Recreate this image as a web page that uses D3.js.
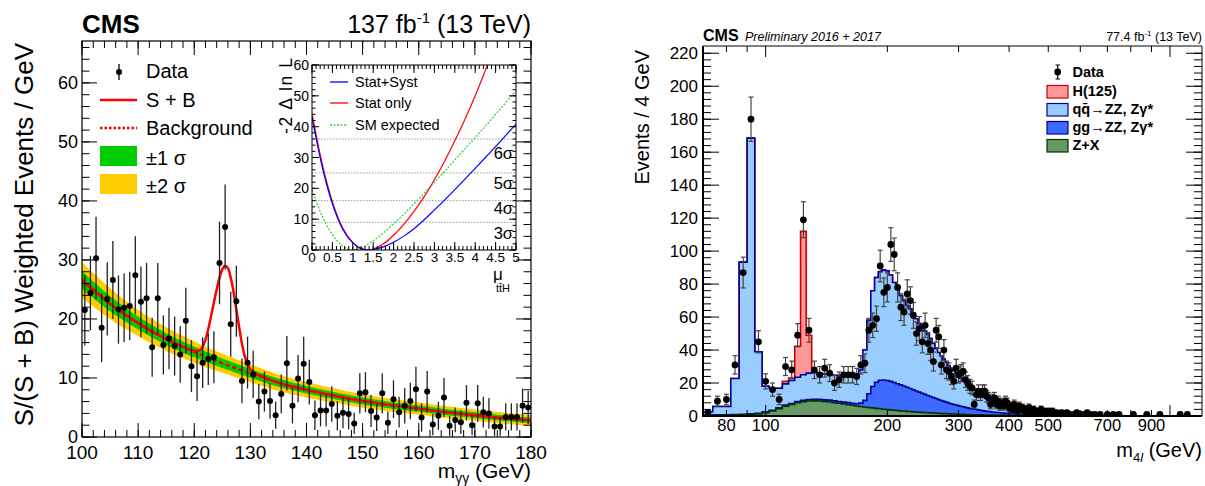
<!DOCTYPE html>
<html><head><meta charset="utf-8">
<script src="https://cdn.jsdelivr.net/npm/d3@7"></script>
<style>
html,body{margin:0;padding:0;background:#fff;}
svg{display:block;font-family:"Liberation Sans",Arial,Helvetica,sans-serif;}
</style></head><body>
<svg id="chart" width="1205" height="486"></svg>
<script>
// ================= LEFT PANEL DATA (H->gammagamma, ttH) =================
const lBinCenters = d3.range(100.5, 180, 1);
const lData = [
 21.5, 24.4, 30.3, 18.5, 23.4, 26.6, 21.6, 21.9, 22.2, 27.4,
 22.9, 23.5, 15.2, 23.5, 15.6, 16.7, 15.4, 14.0, 19.7, 12.0,
 10.3, 12.6, 13.2, 13.5, 29.5, 35.6, 19.1, 23.0, 9.5, 12.6,
 10.6, 6.0, 7.7, 6.1, 3.7, 7.3, 12.5, 5.3, 9.9, 12.4,
 9.3, 3.7, 4.5, 4.5, 5.6, 3.6, 4.1, 3.9, 2.3, 7.4,
 7.6, 4.4, 3.3, 7.4, 2.4, 6.4, 4.2, 5.3, 6.1, 8.1,
 3.3, 7.7, 2.1, 3.6, 6.7, 1.9, 2.9, 2.5, 5.8, 2.0,
 5.7, 4.2, 4.0, 1.8, 1.8, 3.4, 3.4, 3.4, 5.3, 5.0];
const lErr = [
 6.0, 6.3, 7.0, 5.8, 6.2, 6.6, 5.8, 5.8, 5.8, 6.6,
 6.0, 6.0, 5.0, 6.0, 5.0, 5.2, 5.0, 4.8, 5.6, 4.4,
 4.2, 4.3, 4.4, 4.4, 7.0, 7.2, 5.5, 6.0, 3.8, 4.4,
 4.0, 3.0, 3.4, 3.0, 2.3, 3.3, 4.6, 3.0, 4.0, 4.6,
 3.8, 2.5, 2.7, 2.7, 3.0, 2.5, 2.6, 2.6, 1.8, 3.4,
 3.4, 2.7, 2.3, 3.4, 1.9, 3.2, 2.6, 3.0, 3.1, 3.8,
 2.4, 3.5, 1.8, 2.4, 3.3, 1.7, 2.1, 2.0, 3.0, 1.7,
 3.1, 2.6, 2.6, 1.6, 1.6, 2.3, 2.3, 2.3, 2.9, 2.8];
const bkgMass = [100,105,110,115,120,125,130,135,140,145,150,155,160,165,170,175,180];
const bkgVal  = [26.6,22.6,19.3,16.6,14.4,12.5,10.8,9.2,8.0,7.0,6.1,5.4,4.8,4.2,3.7,3.2,2.8];
const band1   = [1.5,1.3,1.1,1.0,0.9,0.8,0.75,0.7,0.65,0.6,0.58,0.55,0.52,0.5,0.48,0.47,0.46];
const band2   = [3.0,2.6,2.2,2.0,1.8,1.6,1.5,1.4,1.3,1.2,1.15,1.1,1.05,1.0,0.96,0.94,0.92];
const sbMass = [100,105,110,115,118,120,121,121.5,122,122.5,123,123.5,124,124.5,125,125.5,126,126.5,127,127.5,128,128.5,129,129.5,130,131,132,135,140,145,150,155,160,165,170,175,180];
const sbVal  = [26.6,22.6,19.3,16.6,15.3,14.6,14.7,15.3,16.5,18.3,20.5,22.8,25.0,27.0,28.4,29.0,28.6,27.0,24.6,21.6,18.6,15.8,13.7,12.3,11.5,10.7,10.3,9.2,8.0,7.0,6.1,5.4,4.8,4.2,3.7,3.2,2.8];
const lXTicks = [100,110,120,130,140,150,160,170,180];
const lYTicks = [0,10,20,30,40,50,60];

// inset likelihood scan
const muGrid   = [0,0.25,0.5,0.75,1,1.25,1.375,1.5,1.75,2,2.25,2.5,2.75,3,3.25,3.5,3.75,4,4.25,4.5,4.75,5];
const statSyst = [43,27,15,6.8,2.3,0.3,0,0.2,1.0,2.5,4.5,6.9,9.8,13.0,16.2,19.6,23.0,26.5,30.0,33.5,37.2,40.8];
const statOnly = [44.3,28,15.7,7.2,2.4,0.2,0,0.3,2.0,4.8,8.3,12.5,17.3,22.8,28.8,35.4,42.4,50.0,58.3,67];
const smExp    = [19.5,11,5,1.3,0,0.9,1.9,3.0,5.5,8.5,11.6,15.0,18.4,22.0,25.5,29.2,32.8,36.5,40.2,44.0,47.8,51.6];
const sigmaLevels = [9,16,25,36];
const sigmaLabels = ['3σ','4σ','5σ','6σ'];
const sigmaLabelPos = [5.5,13.6,21.7,31.5];
const insetXTicks = [0,0.5,1,1.5,2,2.5,3,3.5,4,4.5,5];
const insetYTicks = [0,10,20,30,40,50,60];

// ================= RIGHT PANEL DATA (H->ZZ->4l) =================
const rEdges = d3.range(70, 503, 4);      // 4 GeV bins 70..502
const rCenters = d3.range(72, 501, 4);
const zxVals = [
 0.3,0.4,0.5,0.6,0.8,1.0,1.3,2.0,3.0,4.5,
 6.0,7.0,8.0,8.7,9.1,9.2,9.1,8.8,8.5,8.1,
 7.7,7.3,6.9,6.5,6.1,5.8,5.5,5.2,4.9,4.6,
 4.4,4.1,3.9,3.7,3.5,3.3,3.1,3.0,2.8,2.7,
 2.5,2.4,2.3,2.2,2.1,2.0,1.9,1.8,1.7,1.6,
 1.5,1.45,1.4,1.3,1.25,1.2,1.15,1.1,1.05,1.0,
 0.95,0.9,0.85,0.8,0.78,0.75,0.72,0.7,0.67,0.64,
 0.61,0.58,0.56,0.54,0.52,0.5,0.48,0.46,0.44,0.42,
 0.4,0.38,0.36,0.35,0.34,0.33,0.32,0.31,0.3,0.29,
 0.28,0.27,0.26,0.25,0.24,0.23,0.22,0.21,0.2,0.2,
 0.19,0.19,0.18,0.18,0.17,0.17,0.16,0.16];
const ggVals = [
 0.3,0.3,0.3,0.3,0.3,0.3,0.4,0.5,0.5,0.5,
 0.6,0.6,0.7,0.8,0.9,1.0,1.0,1.0,1.1,1.1,
 1.1,1.1,1.2,1.2,1.3,2.0,4.0,8.3,13.0,15.9,
 17.3,17.7,17.6,17.3,16.8,16.3,15.8,15.2,14.6,14.0,
 13.4,12.8,12.2,11.6,11.0,10.4,9.9,9.4,8.9,8.4,
 7.9,7.4,7.0,6.6,6.2,5.8,5.5,5.2,4.9,4.6,
 4.3,4.0,3.8,3.6,3.4,3.2,3.0,2.8,2.6,2.45,
 2.3,2.15,2.0,1.9,1.8,1.7,1.6,1.5,1.4,1.3,
 1.25,1.2,1.1,1.05,1.0,0.95,0.9,0.85,0.8,0.75,
 0.72,0.68,0.65,0.62,0.59,0.56,0.53,0.5,0.48,0.46,
 0.44,0.42,0.4,0.38,0.36,0.35,0.34,0.33];
const qqVals = [
 2.0,5.1,5.0,21.8,92.2,167.2,37.3,15.5,13.3,11.8,
 12.9,13.9,14.8,15.5,16.0,16.1,15.9,15.7,15.4,15.5,
 15.7,16.1,16.6,17.3,18.1,20.2,30.5,44.5,58.1,63.5,
 65.8,66.7,66.5,64.5,60.7,57.4,54.1,51.8,49.6,48.3,
 46.6,43.8,41.5,39.7,38.4,37.1,35.2,32.8,30.4,28.5,
 27.1,25.65,24.1,22.6,21.55,20.5,19.35,18.2,17.05,16.2,
 15.25,14.3,13.35,12.6,11.82,11.15,10.58,10.1,9.63,9.11,
 8.59,8.17,7.74,7.36,6.98,6.6,6.22,5.84,5.56,5.28,
 4.95,4.62,4.44,4.2,3.96,3.72,3.48,3.34,3.1,2.96,
 2.8,2.65,2.49,2.33,2.17,2.06,1.95,1.84,1.72,1.64,
 1.57,1.49,1.42,1.34,1.27,1.18,1.1,1.01];
const hVals = [
 0,0,0,0,0,0,0,0,0,0,
 1.5,1.5,18.8,87,23,0.5,0,0,0,0,
 0,0,0,0,0,0,0,0,0,0,
 0,0,0,0,0,0,0,0,0,0,
 0,0,0,0,0,0,0,0,0,0,
 0,0,0,0,0,0,0,0,0,0,
 0,0,0,0,0,0,0,0,0,0,
 0,0,0,0,0,0,0,0,0,0,
 0,0,0,0,0,0,0,0,0,0,
 0,0,0,0,0,0,0,0,0,0,
 0,0,0,0,0,0,0,0];
const rDataN = [
 2,9,10,31,87,180,45,21,16,10,
 30,28,49,119,52,28,25,29,26,20,
 22,25,25,25,24,31,32,52,55,59,
 91,75,78,104,98,78,66,63,74,70,
 61,50,53,45,55,44,40,33,52,48,
 31,40,28,27,24,21,29,25,26,27,
 22,20,18,17,7,13,15,13,15,15,
 12,11,7,10,11,7,9,6,8,6,
 9,8,5,6,4,7,5,3,6,4,
 5,3,4,2,5,3,2,4,3,1,
 3,2,4,2,3,1,2,3];
const rTailM = [504,508,512,520,524,532,540,548,556,564,576,588,600,612,624,636,652,672,700,724,748,812,876,944,1060,1104];
const rTailN = [2,1,3,1,2,1,2,1,2,1,1,2,1,1,2,1,1,1,1,1,1,1,1,1,1,1];
const rXLabels = [80,100,200,300,400,500,700,900];
const rXMinor = [80,90,200,300,400,500,600,700,800,900];
const rXMajor = [100,1000];
const rYTicks = [0,20,40,60,80,100,120,140,160,180,200,220];

// ================= DRAWING =================
const svg = d3.select('#chart');
const defs = svg.append('defs');
function clip(id,x,y,w,h){defs.append('clipPath').attr('id',id).append('rect').attr('x',x).attr('y',y).attr('width',w).attr('height',h);}

function ticksX(g, sx, vals, y, len, dir){
  g.append('g').selectAll('line').data(vals).join('line')
   .attr('x1',d=>sx(d)).attr('x2',d=>sx(d)).attr('y1',y).attr('y2',y+dir*len)
   .attr('stroke','#000').attr('stroke-width',1);
}
function ticksY(g, sy, vals, x, len, dir){
  g.append('g').selectAll('line').data(vals).join('line')
   .attr('y1',d=>sy(d)).attr('y2',d=>sy(d)).attr('x1',x).attr('x2',x+dir*len)
   .attr('stroke','#000').attr('stroke-width',1);
}

// ---------- LEFT ----------
const L = {x0:82, x1:531, y0:41, y1:437};
const xL = d3.scaleLinear().domain([100,180]).range([L.x0,L.x1]);
const yL = d3.scaleLinear().domain([0,67.1]).range([L.y1,L.y0]);
clip('clipL', L.x0, L.y0, L.x1-L.x0, L.y1-L.y0);
const gL = svg.append('g');
const cL = gL.append('g').attr('clip-path','url(#clipL)');
const band = bkgMass.map((m,i)=>({m, b:bkgVal[i], s1:band1[i], s2:band2[i]}));
cL.append('path').datum(band)
  .attr('d', d3.area().x(d=>xL(d.m)).y0(d=>yL(d.b-d.s2)).y1(d=>yL(d.b+d.s2)).curve(d3.curveMonotoneX))
  .attr('fill','#ffcc00');
cL.append('path').datum(band)
  .attr('d', d3.area().x(d=>xL(d.m)).y0(d=>yL(d.b-d.s1)).y1(d=>yL(d.b+d.s1)).curve(d3.curveMonotoneX))
  .attr('fill','#00cc00');
cL.append('path').datum(band)
  .attr('d', d3.line().x(d=>xL(d.m)).y(d=>yL(d.b)).curve(d3.curveMonotoneX))
  .attr('fill','none').attr('stroke','#ff0000').attr('stroke-width',2.5).attr('stroke-dasharray','4,3');
cL.append('path').datum(sbMass.map((m,i)=>({m, v:sbVal[i]})))
  .attr('d', d3.line().x(d=>xL(d.m)).y(d=>yL(d.v)).curve(d3.curveMonotoneX))
  .attr('fill','none').attr('stroke','#ff0000').attr('stroke-width',2.5);
const lPts = lBinCenters.map((m,i)=>({m, v:lData[i], e:lErr[i]}));
cL.append('g').selectAll('line').data(lPts).join('line')
  .attr('x1',d=>xL(d.m)).attr('x2',d=>xL(d.m)).attr('y1',d=>yL(d.v-d.e)).attr('y2',d=>yL(d.v+d.e))
  .attr('stroke','#222').attr('stroke-width',1.3);
cL.append('g').selectAll('circle').data(lPts).join('circle')
  .attr('cx',d=>xL(d.m)).attr('cy',d=>yL(d.v)).attr('r',3).attr('fill','#000');
// frame & ticks
gL.append('rect').attr('x',L.x0).attr('y',L.y0).attr('width',L.x1-L.x0).attr('height',L.y1-L.y0)
  .attr('fill','none').attr('stroke','#000').attr('stroke-width',1.2);
ticksX(gL, xL, lXTicks, L.y1, 14, -1); ticksX(gL, xL, lXTicks, L.y0, 14, 1);
const lXMin = d3.range(100,180.01,2);
ticksX(gL, xL, lXMin, L.y1, 7, -1); ticksX(gL, xL, lXMin, L.y0, 7, 1);
ticksY(gL, yL, lYTicks, L.x0, 15, 1); ticksY(gL, yL, lYTicks, L.x1, 15, -1);
const lYMin = d3.range(0,67,2);
ticksY(gL, yL, lYMin, L.x0, 7.5, 1); ticksY(gL, yL, lYMin, L.x1, 7.5, -1);
gL.append('g').selectAll('text').data(lXTicks).join('text')
  .attr('x',d=>xL(d)).attr('y',459).attr('text-anchor','middle').attr('font-size',19).text(d=>d);
gL.append('g').selectAll('text').data(lYTicks).join('text')
  .attr('x',78).attr('y',d=>yL(d)).attr('dy','0.36em').attr('text-anchor','end').attr('font-size',18).text(d=>d);
// titles
gL.append('text').attr('transform','translate(33,43) rotate(-90)').attr('text-anchor','end').attr('font-size',26)
  .text('S/(S + B) Weighted Events / GeV');
const xt = gL.append('text').attr('x',531).attr('y',478).attr('text-anchor','end').attr('font-size',21);
xt.append('tspan').text('m');
xt.append('tspan').attr('font-size',14).attr('dy',5).text('γγ');
xt.append('tspan').attr('dy',-5).text(' (GeV)');
gL.append('text').attr('x',82).attr('y',33).attr('font-size',26).attr('font-weight','bold').text('CMS');
const lum = gL.append('text').attr('x',531).attr('y',33).attr('text-anchor','end').attr('font-size',25);
lum.append('tspan').text('137 fb');
lum.append('tspan').attr('font-size',15).attr('dy',-10).text('-1');
lum.append('tspan').attr('dy',10).text(' (13 TeV)');
// legend
const lg = gL.append('g').attr('font-size',20);
lg.append('line').attr('x1',119).attr('x2',119).attr('y1',64).attr('y2',80).attr('stroke','#000').attr('stroke-width',1.3);
lg.append('circle').attr('cx',119).attr('cy',72).attr('r',3).attr('fill','#000');
lg.append('text').attr('x',146).attr('y',78).text('Data');
lg.append('line').attr('x1',100).attr('x2',137).attr('y1',100).attr('y2',100).attr('stroke','#ff0000').attr('stroke-width',2.5);
lg.append('text').attr('x',146).attr('y',107).text('S + B');
lg.append('line').attr('x1',100).attr('x2',137).attr('y1',128).attr('y2',128).attr('stroke','#ff0000').attr('stroke-width',2.5).attr('stroke-dasharray','2.5,2');
lg.append('text').attr('x',146).attr('y',135).text('Background');
lg.append('rect').attr('x',100).attr('y',146).attr('width',37).attr('height',20).attr('fill','#00cc00');
lg.append('text').attr('x',146).attr('y',165).text('±1 σ');
lg.append('rect').attr('x',100).attr('y',174).attr('width',37).attr('height',20).attr('fill','#ffcc00');
lg.append('text').attr('x',146).attr('y',193).text('±2 σ');

// ---------- INSET ----------
const I = {x0:312, x1:516, y0:65, y1:250};
const xI = d3.scaleLinear().domain([0,5]).range([I.x0,I.x1]);
const yI = d3.scaleLinear().domain([0,60]).range([I.y1,I.y0]);
clip('clipI', I.x0, I.y0, I.x1-I.x0, I.y1-I.y0);
const gI = svg.append('g');
gI.append('rect').attr('x',I.x0).attr('y',I.y0).attr('width',I.x1-I.x0).attr('height',I.y1-I.y0).attr('fill','#fff');
const cI = gI.append('g').attr('clip-path','url(#clipI)');
cI.append('g').selectAll('line').data(sigmaLevels).join('line')
  .attr('x1',I.x0).attr('x2',I.x1).attr('y1',d=>yI(d)).attr('y2',d=>yI(d))
  .attr('stroke','#999').attr('stroke-width',1).attr('stroke-dasharray','1.5,1.5');
const scanLine = d3.line().x(d=>xI(d[0])).y(d=>yI(d[1])).curve(d3.curveMonotoneX);
cI.append('path').datum(muGrid.map((m,i)=>[m,smExp[i]])).attr('d',scanLine)
  .attr('fill','none').attr('stroke','#33cc33').attr('stroke-width',1.2).attr('stroke-dasharray','2,1.5');
cI.append('path').datum(statOnly.map((v,i)=>[muGrid[i],v])).attr('d',scanLine)
  .attr('fill','none').attr('stroke','#ff0000').attr('stroke-width',1.2);
cI.append('path').datum(muGrid.map((m,i)=>[m,statSyst[i]])).attr('d',scanLine)
  .attr('fill','none').attr('stroke','#0000ff').attr('stroke-width',1.2);
gI.append('g').selectAll('text').data(sigmaLabels).join('text')
  .attr('x',513).attr('y',(d,i)=>yI(sigmaLabelPos[i])).attr('dy','0.36em').attr('text-anchor','end')
  .attr('font-size',16.5).text(d=>d);
gI.append('rect').attr('x',I.x0).attr('y',I.y0).attr('width',I.x1-I.x0).attr('height',I.y1-I.y0)
  .attr('fill','none').attr('stroke','#000').attr('stroke-width',1);
ticksX(gI, xI, insetXTicks, I.y1, 8, -1); ticksX(gI, xI, insetXTicks, I.y0, 8, 1);
const iXMin = d3.range(0,5.001,0.1);
ticksX(gI, xI, iXMin, I.y1, 4, -1); ticksX(gI, xI, iXMin, I.y0, 4, 1);
ticksY(gI, yI, insetYTicks, I.x0, 7, 1); ticksY(gI, yI, insetYTicks, I.x1, 7, -1);
const iYMin = d3.range(0,60.01,2);
ticksY(gI, yI, iYMin, I.x0, 3.5, 1); ticksY(gI, yI, iYMin, I.x1, 3.5, -1);
gI.append('g').selectAll('text').data(insetXTicks).join('text')
  .attr('x',d=>xI(d)).attr('y',261.5).attr('text-anchor','middle').attr('font-size',13.5).text(d=>d3.format('~g')(d));
gI.append('g').selectAll('text').data(insetYTicks).join('text')
  .attr('x',309).attr('y',d=>yI(d)).attr('dy','0.36em').attr('text-anchor','end').attr('font-size',14).text(d=>d);
gI.append('text').attr('transform','translate(292,58) rotate(-90)').attr('text-anchor','end').attr('font-size',17.5)
  .attr('textLength',76).attr('lengthAdjust','spacing').text('-2 Δ ln L');
gI.append('text').attr('x',493).attr('y',280).attr('font-size',17).text('μ');
gI.append('text').attr('x',496).attr('y',292).attr('font-size',11).text('tt\u0304H');
const il = gI.append('g').attr('font-size',14.5);
[['Stat+Syst','#0000ff',null,87],['Stat only','#ff0000',null,108],['SM expected','#33cc33','2,1.5',130]].forEach(r=>{
  il.append('line').attr('x1',330).attr('x2',348).attr('y1',r[3]-5).attr('y2',r[3]-5)
    .attr('stroke',r[1]).attr('stroke-width',1.3).attr('stroke-dasharray',r[2]);
  il.append('text').attr('x',355).attr('y',r[3]).text(r[0]);
});

// ---------- RIGHT ----------
const R = {x0:703, x1:1202, y0:46, y1:416};
const xR = d3.scaleLog().domain([70,1200]).range([R.x0,R.x1]);
const yR = d3.scaleLinear().domain([0,224.4]).range([R.y1,R.y0]);
clip('clipR', R.x0, R.y0, R.x1-R.x0, R.y1-R.y0);
const gR = svg.append('g');
const cR = gR.append('g').attr('clip-path','url(#clipR)');
const stack = d3.stack().keys(['zx','gg','qq','h'])(rCenters.map((c,i)=>({zx:zxVals[i], gg:ggVals[i], qq:qqVals[i], h:hVals[i]})));
const layers = [
  {k:3, fill:'#ff9999', stroke:'#cc0000'},
  {k:2, fill:'#99ccff', stroke:'#000099'},
  {k:1, fill:'#3d6bff', stroke:'#000099'},
  {k:0, fill:'#669966', stroke:'#003300'}];
const stepArea = d3.area().x(d=>xR(d.m)).y0(yR(0)).y1(d=>yR(d.v)).curve(d3.curveStepAfter);
layers.forEach(L2=>{
  const tops = stack[L2.k].map(d=>d[1]);
  const pts = rEdges.map((e,i)=>({m:e, v:tops[Math.min(i,tops.length-1)]}));
  cR.append('path').datum(pts).attr('d',stepArea).attr('fill',L2.fill)
    .attr('stroke',L2.stroke).attr('stroke-width',1.6);
});
const rPts = rCenters.map((c,i)=>({m:c, n:rDataN[i]})).concat(rTailM.map((m,i)=>({m, n:rTailN[i]})));
const eb = cR.append('g').attr('stroke','#444').attr('stroke-width',1.2);
rPts.forEach(d=>{
  const e = Math.sqrt(d.n), x = xR(d.m);
  eb.append('line').attr('x1',x).attr('x2',x).attr('y1',yR(d.n-e)).attr('y2',yR(d.n+e));
  eb.append('line').attr('x1',x-2.5).attr('x2',x+2.5).attr('y1',yR(d.n-e)).attr('y2',yR(d.n-e));
  eb.append('line').attr('x1',x-2.5).attr('x2',x+2.5).attr('y1',yR(d.n+e)).attr('y2',yR(d.n+e));
});
cR.append('g').selectAll('circle').data(rPts).join('circle')
  .attr('cx',d=>xR(d.m)).attr('cy',d=>yR(d.n)).attr('r',3.4).attr('fill','#000');
// frame
gR.append('line').attr('x1',R.x0).attr('x2',R.x1).attr('y1',R.y0).attr('y2',R.y0).attr('stroke','#000').attr('stroke-width',1);
gR.append('line').attr('x1',R.x1).attr('x2',R.x1).attr('y1',R.y0).attr('y2',R.y1).attr('stroke','#000').attr('stroke-width',1);
gR.append('line').attr('x1',R.x0).attr('x2',R.x1).attr('y1',R.y1).attr('y2',R.y1).attr('stroke','#000').attr('stroke-width',2);
gR.append('line').attr('x1',R.x0).attr('x2',R.x0).attr('y1',R.y0).attr('y2',R.y1+1).attr('stroke','#000').attr('stroke-width',2);
ticksX(gR, xR, rXMinor, R.y1, 6, -1); ticksX(gR, xR, rXMinor, R.y0, 6, 1);
ticksX(gR, xR, rXMajor, R.y1, 11, -1); ticksX(gR, xR, rXMajor, R.y0, 11, 1);
ticksY(gR, yR, rYTicks, R.x0, 16, 1); ticksY(gR, yR, rYTicks, R.x1, 16, -1);
const rYMin = d3.range(0,224,4);
ticksY(gR, yR, rYMin, R.x0, 8, 1); ticksY(gR, yR, rYMin, R.x1, 8, -1);
gR.append('g').selectAll('text').data(rXLabels).join('text')
  .attr('x',d=>xR(d)).attr('y',431).attr('text-anchor','middle').attr('font-size',16.5).text(d=>d);
gR.append('g').selectAll('text').data(rYTicks).join('text')
  .attr('x',698).attr('y',d=>yR(d)).attr('dy','0.36em').attr('text-anchor','end').attr('font-size',17).text(d=>d);
gR.append('text').attr('transform','translate(649,50) rotate(-90)').attr('text-anchor','end').attr('font-size',20)
  .text('Events / 4 GeV');
const xt2 = gR.append('text').attr('x',1202).attr('y',457).attr('text-anchor','end').attr('font-size',20);
xt2.append('tspan').text('m');
xt2.append('tspan').attr('font-size',13).attr('dy',5).text('4');
xt2.append('tspan').attr('font-size',13).attr('font-style','italic').text('l');
xt2.append('tspan').attr('dy',-5).text(' (GeV)');
gR.append('text').attr('x',703).attr('y',40.5).attr('font-size',16).attr('font-weight','bold').text('CMS');
gR.append('text').attr('x',745).attr('y',40.5).attr('font-size',12.5).attr('font-style','italic').text('Preliminary 2016 + 2017');
const lum2 = gR.append('text').attr('x',1202).attr('y',40.5).attr('text-anchor','end').attr('font-size',12.5);
lum2.append('tspan').text('77.4 fb');
lum2.append('tspan').attr('font-size',8).attr('dy',-5).text('-1');
lum2.append('tspan').attr('dy',5).text(' (13 TeV)');
// legend
const rl = gR.append('g').attr('font-size',14.5).attr('font-weight','bold');
rl.append('line').attr('x1',1057.7).attr('x2',1057.7).attr('y1',65).attr('y2',79).attr('stroke','#000').attr('stroke-width',1.2);
rl.append('line').attr('x1',1055.5).attr('x2',1060).attr('y1',65).attr('y2',65).attr('stroke','#000');
rl.append('line').attr('x1',1055.5).attr('x2',1060).attr('y1',79).attr('y2',79).attr('stroke','#000');
rl.append('circle').attr('cx',1057.7).attr('cy',72).attr('r',3.4).attr('fill','#000');
rl.append('text').attr('x',1072.5).attr('y',77).text('Data');
const rRows = [
  {t:'H(125)', fill:'#ff9999', stroke:'#cc0000', y:95.5},
  {t:'qq\u0304→ZZ, Zγ*', fill:'#99ccff', stroke:'#000099', y:113.5},
  {t:'gg→ZZ, Zγ*', fill:'#3d6bff', stroke:'#000099', y:131.5},
  {t:'Z+X', fill:'#669966', stroke:'#003300', y:149.5}];
rRows.forEach(r=>{
  rl.append('rect').attr('x',1047).attr('y',r.y-10).attr('width',21).attr('height',12.5)
    .attr('fill',r.fill).attr('stroke',r.stroke).attr('stroke-width',1.2);
  rl.append('text').attr('x',1072.5).attr('y',r.y).text(r.t);
});
</script></body></html>
